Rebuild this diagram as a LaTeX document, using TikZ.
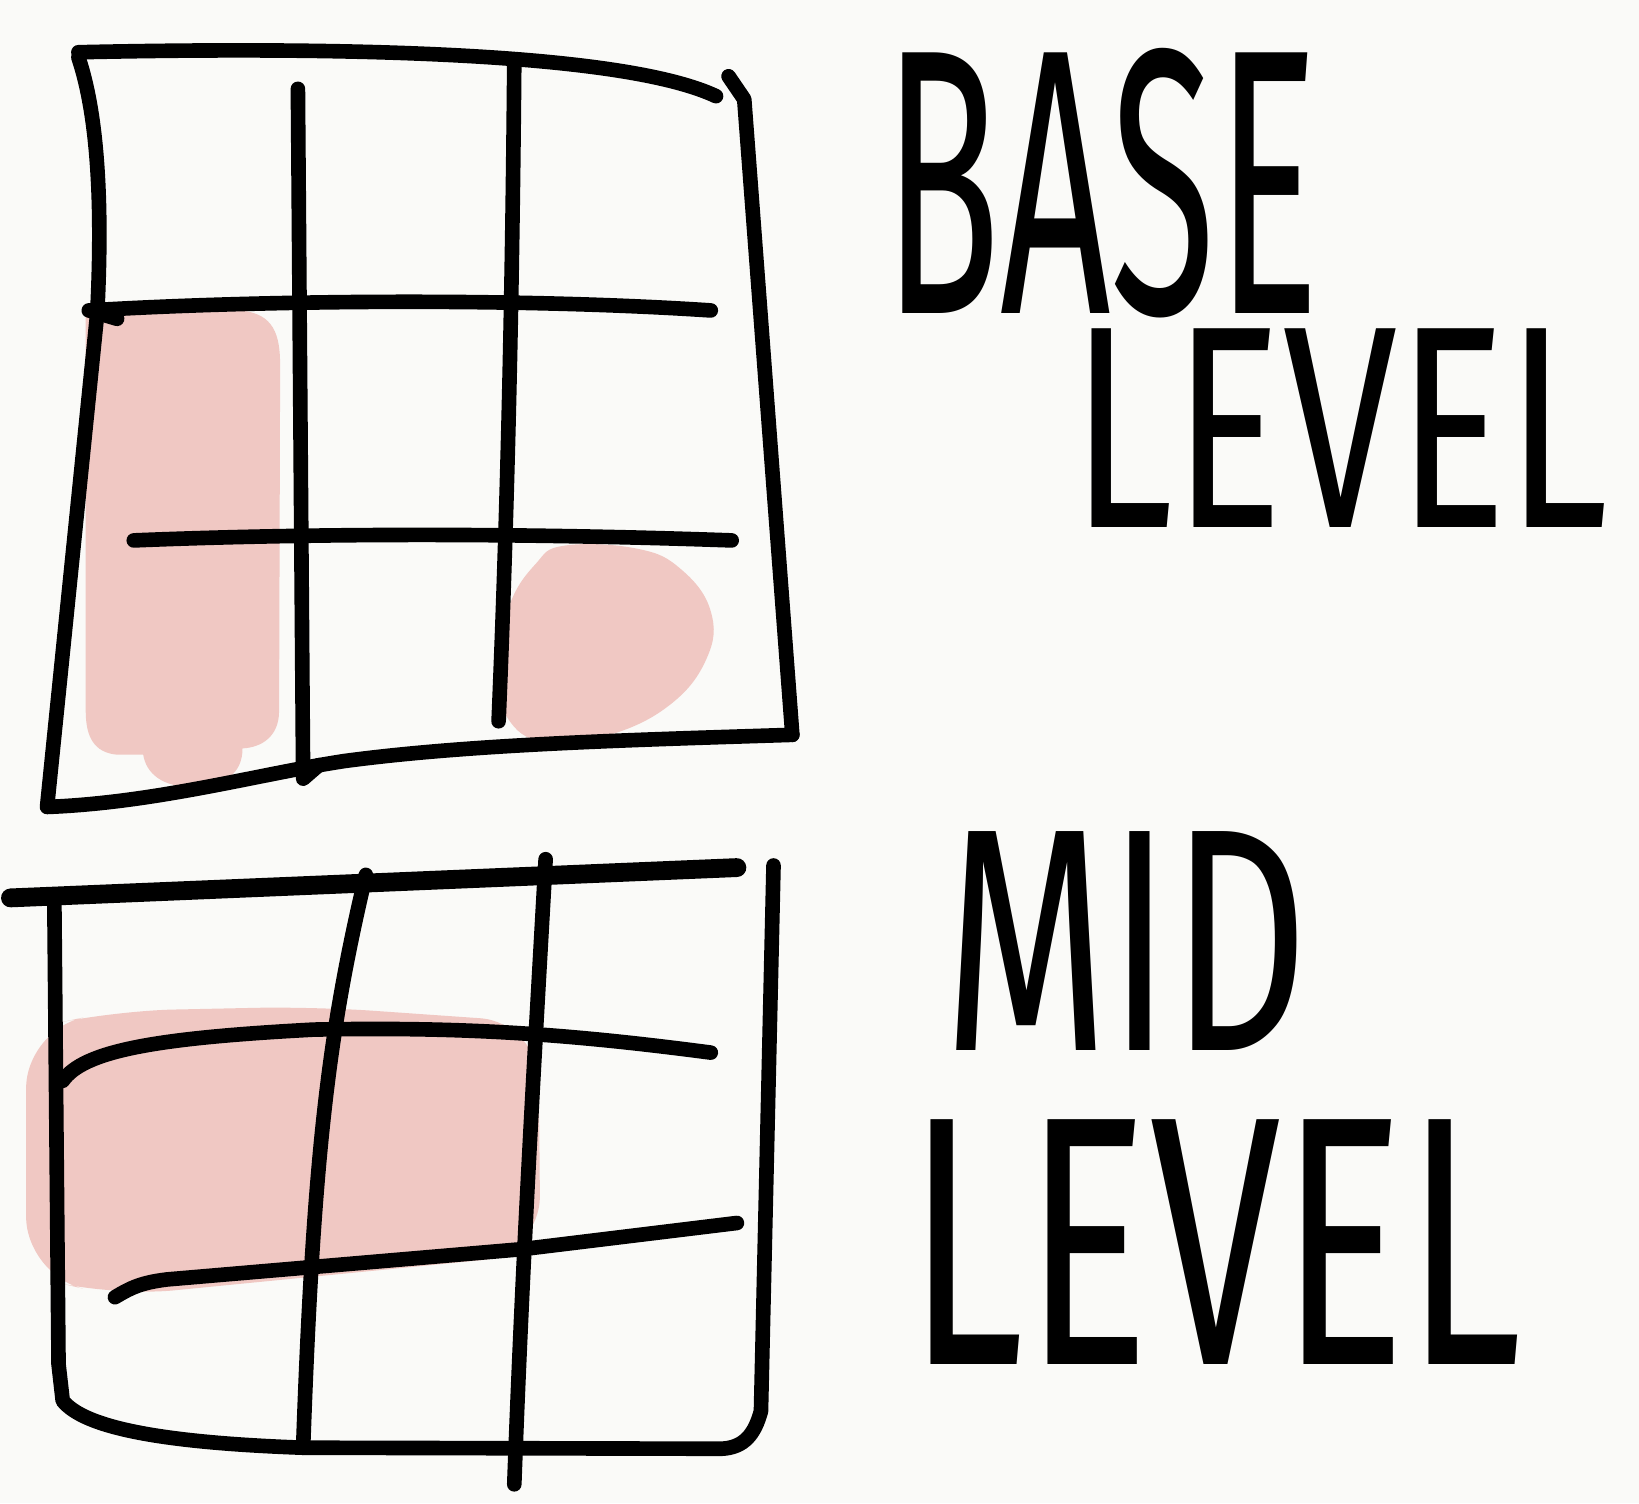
\documentclass[tikz,border=0pt]{standalone}
\usepackage{fontspec}
\newfontfamily\hand{Fira Sans}
\definecolor{paper}{RGB}{250,250,248}
\definecolor{blush}{RGB}{240,200,195}
\begin{document}
\begin{tikzpicture}[x=0.5pt,y=-0.5pt,
  pen/.style={line width=7pt,line cap=round,line join=round,black},
  heavypen/.style={line width=9pt,line cap=round,line join=round,black},
  shade/.style={fill=blush,draw=none},
  label/.style={anchor=base west,inner sep=0pt,text=black}]
\fill[paper] (0,0) rectangle (1568,1438);
\useasboundingbox (0,0) rectangle (1568,1438);

% ---------- top grid (BASE LEVEL) ----------
\path[shade] (82,300) -- (230,297) .. controls (262,300) and (268,320) .. (268,350)
  -- (267,680) .. controls (267,705) and (250,715) .. (232,716)
  .. controls (232,740) and (215,752) .. (185,753)
  .. controls (155,753) and (140,740) .. (137,722) -- (112,722)
  .. controls (90,720) and (82,705) .. (82,680) -- cycle;
\path[shade] plot[smooth cycle,tension=0.7] coordinates {(540,522) (610,525) (652,545) (680,585) (676,630) (640,675) (580,704) (520,710) (485,686) (475,640) (487,580) (512,540)};

\draw[pen] (75,50) .. controls (350,44) and (600,52) .. (685,92);
\draw[pen] (75,55) .. controls (97,120) and (97,220) .. (93,300) -- (45,772)
  .. controls (150,768) and (250,740) .. (330,728) .. controls (450,712) and (600,708) .. (758,703);
\draw[pen] (697,73) -- (712,95) -- (758,703);
\draw[pen] (285,85) -- (290,745) -- (305,732);
\draw[pen] (492,58) .. controls (490,300) and (485,500) .. (477,690);
\draw[pen] (112,305) -- (85,297) .. controls (250,287) and (500,285) .. (680,297);
\draw[pen] (128,517) .. controls (300,510) and (500,510) .. (700,517);

% ---------- bottom grid (MID LEVEL) ----------
\path[shade,rounded corners=28pt] (25,985) -- (110,967) -- (300,963) -- (515,978) -- (517,1200) -- (110,1240) -- (25,1220) -- cycle;

\draw[heavypen] (10,859) -- (705,830);
\draw[pen] (52,864) -- (56,1305) -- (60,1340) .. controls (80,1365) and (150,1380) .. (290,1385)
  -- (690,1386) .. controls (712,1385) and (722,1372) .. (728,1350) -- (740,828);
\draw[pen] (350,837) .. controls (315,985) and (300,1100) .. (290,1385);
\draw[pen] (522,822) .. controls (512,1000) and (500,1200) .. (492,1420);
\draw[pen] (60,1034) .. controls (80,1005) and (150,993) .. (300,985) .. controls (450,982) and (550,990) .. (680,1007);
\draw[pen] (110,1241) .. controls (125,1232) and (135,1227) .. (160,1224) -- (500,1195) -- (705,1170);

% ---------- handwritten labels ----------
\node[label] (baselevel) at (845,505) {\hand\rlap{\raisebox{102.5pt}{\scalebox{0.51}[1]{\fontsize{181}{181}\selectfont BASE}}}\hspace*{90pt}\scalebox{0.71}[1]{\fontsize{138}{138}\selectfont LEVEL}};
\node[label] (midlevel) at (868,1305) {\hand\rlap{\hspace*{17pt}\raisebox{150pt}{\scalebox{0.67}[1]{\fontsize{152}{152}\selectfont MID}}}\scalebox{0.66}[1]{\fontsize{170}{170}\selectfont LEVEL}};
\end{tikzpicture}
\end{document}
